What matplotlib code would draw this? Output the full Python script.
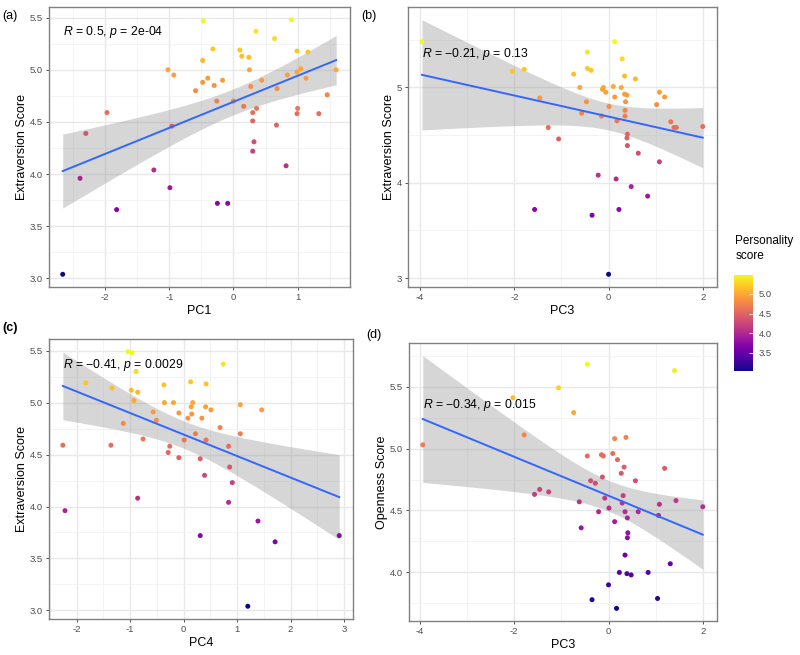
import numpy as np
import matplotlib
matplotlib.use("Agg")
import matplotlib.pyplot as plt
import matplotlib.colors as mcolors
import matplotlib.colorbar as mcolorbar

plt.rcParams['font.family'] = ['Liberation Sans', 'DejaVu Sans']
plt.rcParams['mathtext.fontset'] = 'custom'
plt.rcParams['mathtext.rm'] = 'Liberation Sans'
plt.rcParams['mathtext.it'] = 'Liberation Sans:italic'

# (a) PC1 vs extraversion
pc1_a = [-2.66, -0.47, 0.90, 0.35, 0.64, -0.32, 0.10, 0.99, 1.16, 0.13, 0.24, -0.48,
         -1.02, 0.25, 1.60, 1.05, 0.99, -0.93, 0.84, -0.40, 1.13, -0.17, 0.44, -0.48,
         -0.30, 0.27, 0.68, -0.59, 1.46, -0.26, 0.00, 0.16, 0.36, 1.00, 0.30, -1.97,
         0.99, 1.33, 0.30, -0.96, 0.67, -2.30, 0.32, 0.30, 0.82, -1.24, -2.39, -0.99,
         -1.82, -0.25, -0.09]
extra_a = [3.04, 5.47, 5.48, 5.37, 5.30, 5.20, 5.19, 5.18, 5.17, 5.13, 5.12, 5.09,
           5.00, 5.00, 5.00, 5.01, 4.98, 4.95, 4.95, 4.92, 4.92, 4.90, 4.90, 4.88,
           4.85, 4.84, 4.82, 4.80, 4.76, 4.70, 4.70, 4.65, 4.63, 4.63, 4.59, 4.59,
           4.58, 4.58, 4.51, 4.46, 4.47, 4.39, 4.31, 4.22, 4.08, 4.04, 3.96, 3.87,
           3.66, 3.72, 3.72]

# (b) PC3 vs extraversion
pc3_b = [-3.96, 0.13, -0.45, 0.29, -2.04, -1.79, -0.45, -0.37, -0.74, 0.34, 0.57, -0.61,
         -0.11, -0.13, 0.27, 0.10, -0.06, 1.08, 0.34, 0.39, 0.13, 1.19, -1.46, -0.47,
         0.36, 1.02, 0.01, 0.35, 0.35, -0.15, -0.57, 0.18, 1.32, 1.39, 1.44, 2.00,
         -1.28, 0.40, 0.39, -1.06, 0.40, 0.63, 1.08, -0.22, 0.16, 0.48, 0.83, -1.57,
         0.22, -0.35, 0.00]
extra_b = [5.48, 5.48, 5.37, 5.30, 5.17, 5.19, 5.20, 5.18, 5.14, 5.12, 5.09, 5.00,
           5.00, 4.98, 5.00, 5.01, 4.95, 4.95, 4.93, 4.92, 4.90, 4.90, 4.89, 4.85,
           4.85, 4.82, 4.80, 4.76, 4.70, 4.70, 4.73, 4.65, 4.64, 4.58, 4.58, 4.59,
           4.58, 4.51, 4.47, 4.46, 4.39, 4.31, 4.22, 4.08, 4.04, 3.96, 3.86, 3.72,
           3.72, 3.66, 3.04]

# (c) PC4 vs extraversion
pc4_c = [-1.04, -0.97, 0.74, -0.89, -1.83, -1.34, 0.13, 0.42, -0.37, -0.98, -0.86, -0.93,
         -0.36, -0.19, 0.17, 1.06, 1.46, 0.51, 0.14, 0.41, -0.57, -0.09, 0.15, -0.51,
         0.08, 0.34, -1.13, 0.68, 0.22, 1.06, -0.76, 0.01, 0.42, -2.26, -1.36, -0.26,
         0.84, -0.29, -0.09, 0.31, 0.86, 0.39, 0.91, -0.86, 0.84, -2.22, 1.39, 0.31,
         2.91, 1.71, 1.20]
extra_c = [5.49, 5.48, 5.37, 5.30, 5.19, 5.14, 5.20, 5.18, 5.17, 5.12, 5.10, 5.02,
           5.00, 5.00, 5.00, 4.98, 4.93, 4.93, 4.96, 4.96, 4.91, 4.90, 4.89, 4.83,
           4.85, 4.85, 4.80, 4.76, 4.70, 4.70, 4.65, 4.64, 4.64, 4.59, 4.59, 4.58,
           4.58, 4.52, 4.47, 4.46, 4.38, 4.30, 4.23, 4.08, 4.04, 3.96, 3.86, 3.72,
           3.72, 3.66, 3.04]

# (d) PC3 vs openness
pc3_d = [-0.45, 1.40, -1.06, -2.03, -0.74, -1.79, 0.13, 0.37, -3.94, 0.09, -0.15, -0.11,
         -0.45, 0.19, 0.33, 1.19, 0.27, -0.13, -0.38, 0.57, -0.28, -1.46, -1.27, -1.57,
         0.31, -0.62, 1.43, 1.08, 0.29, 2.00, -0.08, 0.01, -0.21, 0.35, 0.63, 1.06,
         0.40, 0.13, -0.58, 0.41, 0.40, 0.35, 1.31, 0.23, 0.84, 0.39, 0.48, 0.00,
         1.04, -0.35, 0.17]
open_d = [5.68, 5.63, 5.49, 5.41, 5.29, 5.11, 5.08, 5.09, 5.03, 4.96, 4.95, 4.94,
          4.94, 4.91, 4.85, 4.84, 4.80, 4.77, 4.74, 4.74, 4.72, 4.67, 4.65, 4.63,
          4.62, 4.57, 4.58, 4.55, 4.56, 4.53, 4.60, 4.52, 4.49, 4.49, 4.49, 4.46,
          4.44, 4.41, 4.36, 4.32, 4.28, 4.14, 4.07, 4.00, 4.00, 3.99, 3.98, 3.90,
          3.79, 3.78, 3.71]

labels = ["$R$ = 0.5, $p$ = 2e-04", "$R$ = \u22120.21, $p$ = 0.13",
          "$R$ = \u22120.41, $p$ = 0.0029", "$R$ = \u22120.34, $p$ = 0.015"]


def draw_panel(ax, x, y, xticks, yticks, yfmt, xlab, ylab, txt, ty):
    x = np.array(x)
    y = np.array(y)
    n = len(x)
    b, a = np.polyfit(x, y, 1)
    xs = np.linspace(x.min(), x.max(), 80)
    fit = a + b * xs
    resid = y - (a + b * x)
    s = np.sqrt(np.sum(resid ** 2) / (n - 2))
    sxx = np.sum((x - x.mean()) ** 2)
    se = s * np.sqrt(1.0 / n + (xs - x.mean()) ** 2 / sxx)
    lo, hi = fit - 2.01 * se, fit + 2.01 * se

    ax.fill_between(xs, lo, hi, color='#999999', alpha=0.4, lw=0, zorder=2)
    norm = mcolors.Normalize(y.min(), y.max())
    ax.scatter(x, y, c=y, cmap='plasma', norm=norm, s=13, lw=0, zorder=3)
    ax.plot(xs, fit, color='#3366FF', lw=1.4, zorder=4)

    xr = x.max() - x.min()
    ymin, ymax = min(y.min(), lo.min()), max(y.max(), hi.max())
    yr = ymax - ymin

    ax.set_xticks(xticks)
    ax.set_xticklabels([str(t) for t in xticks])
    ax.set_yticks(yticks)
    ax.set_yticklabels([yfmt.format(t) for t in yticks])
    dx = xticks[1] - xticks[0]
    dy = yticks[1] - yticks[0]
    ax.set_xticks(np.arange(xticks[0] - dx / 2, xticks[-1] + dx, dx), minor=True)
    ax.set_yticks(np.arange(yticks[0] - dy / 2, yticks[-1] + dy, dy), minor=True)
    ax.set_xlim(x.min() - 0.05 * xr, x.max() + 0.05 * xr)
    ax.set_ylim(ymin - 0.05 * yr, ymax + 0.05 * yr)
    ax.grid(which='major', color='#e8e8e8', lw=1.0, zorder=0)
    ax.grid(which='minor', color='#f2f2f2', lw=0.6, zorder=0)
    ax.set_axisbelow(True)
    ax.tick_params(which='minor', length=0)
    ax.tick_params(which='major', length=2.5, width=0.6, color='#333333',
                   labelsize=6.8, labelcolor='#4d4d4d', pad=2)
    for sp in ax.spines.values():
        sp.set_color('#808080')
        sp.set_linewidth(1.0)
    ax.set_xlabel(xlab, fontsize=9, labelpad=2)
    ax.set_ylabel(ylab, fontsize=9, labelpad=1)
    ax.text(x.min(), ty, txt, fontsize=8.8, va='center', ha='left', zorder=5)


fig = plt.figure(figsize=(8, 6.55), dpi=100)
ax_a = fig.add_axes([0.0613, 0.5618, 0.376, 0.4275])
ax_b = fig.add_axes([0.51, 0.5618, 0.386, 0.4275])
ax_c = fig.add_axes([0.0613, 0.055, 0.38, 0.4275])
ax_d = fig.add_axes([0.511, 0.0519, 0.385, 0.4244])

draw_panel(ax_a, pc1_a, extra_a, [-2, -1, 0, 1], [3.0, 3.5, 4.0, 4.5, 5.0, 5.5], "{:.1f}",
           "PC1", "Extraversion Score", labels[0], 5.36)
draw_panel(ax_b, pc3_b, extra_b, [-4, -2, 0, 2], [3, 4, 5], "{:.0f}",
           "PC3", "Extraversion Score", labels[1], 5.35)
draw_panel(ax_c, pc4_c, extra_c, [-2, -1, 0, 1, 2, 3], [3.0, 3.5, 4.0, 4.5, 5.0, 5.5], "{:.1f}",
           "PC4", "Extraversion Score", labels[2], 5.36)
draw_panel(ax_d, pc3_d, open_d, [-4, -2, 0, 2], [4.0, 4.5, 5.0, 5.5], "{:.1f}",
           "PC3", "Openness Score", labels[3], 5.355)

fig.text(0.003, 0.985, "(a)", fontsize=9, va='top')
fig.text(0.452, 0.985, "(b)", fontsize=9, va='top')
fig.text(0.003, 0.508, "(c)", fontsize=9, va='top', fontweight='bold')
fig.text(0.458, 0.497, "(d)", fontsize=9, va='top')

# colour legend
cax = fig.add_axes([0.9175, 0.4336, 0.024, 0.1466])
cnorm = mcolors.Normalize(3.04, 5.48)
cb = mcolorbar.ColorbarBase(cax, cmap='plasma', norm=cnorm)
cb.set_ticks([3.5, 4.0, 4.5, 5.0])
cb.set_ticklabels(["3.5", "4.0", "4.5", "5.0"])
cb.outline.set_visible(False)
cax.tick_params(length=3, color='white', width=0.6, direction='in',
                labelsize=6.8, labelcolor='#4d4d4d', pad=4)
fig.text(0.919, 0.600, "Personality\nscore", fontsize=8.5, va='bottom', ha='left',
         linespacing=1.3)

fig.savefig("out.png", dpi=100)
